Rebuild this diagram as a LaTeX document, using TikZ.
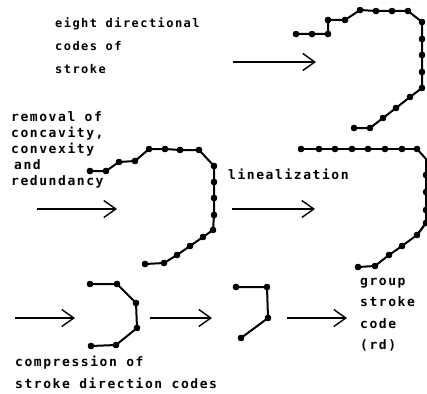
\documentclass[tikz,border=0pt]{standalone}
\usepackage{fontspec}
\newfontfamily\dotfont{DejaVu Sans Mono}[LetterSpace=12]
\usetikzlibrary{arrows.meta}

\begin{document}
\begin{tikzpicture}[x=1pt, y=-1pt,
  lbl/.style={anchor=north west, inner sep=0pt, align=left,
              font=\dotfont\bfseries\fontsize{13}{16}\selectfont},
  toplbl/.style={lbl, font=\dotfont\bfseries\fontsize{12}{23}\selectfont},
  sidelbl/.style={lbl, font=\dotfont\bfseries\fontsize{13}{21.5}\selectfont},
  arr/.style={-{Straight Barb[length=12pt, width=17pt, line width=1.4pt]}, line width=1.4pt},
  strk/.style={line width=2pt, line join=round, mark=*, mark size=2.3pt}
]
\useasboundingbox (0,0) rectangle (427,393);

% labels
\node[toplbl] (eight) at (55,18) {eight directional\\codes of\\stroke};
\node[lbl] (removal) at (11,111) {removal of\\concavity,\\convexity\\\hspace{3pt}and\\redundancy};
\node[lbl] (lineal) at (228,169) {linealization};
\node[sidelbl] (group) at (360,278) {group\\stroke\\code\\(rd)};
\node[sidelbl] (compr) at (15,356) {compression of\\stroke direction codes};

% arrows
\coordinate (a1s) at (233,62);  \coordinate (a1e) at (316,62);
\coordinate (a2s) at (37,209);  \coordinate (a2e) at (117,209);
\coordinate (a3s) at (232,209); \coordinate (a3e) at (315,209);
\coordinate (a4s) at (15,318);  \coordinate (a4e) at (75,318);
\coordinate (a5s) at (150,318); \coordinate (a5e) at (212,318);
\coordinate (a6s) at (287,318); \coordinate (a6e) at (347,318);
\draw[arr] (a1s) -- (a1e);
\draw[arr] (a2s) -- (a2e);
\draw[arr] (a3s) -- (a3e);
\draw[arr] (a4s) -- (a4e);
\draw[arr] (a5s) -- (a5e);
\draw[arr] (a6s) -- (a6e);

% strokes
\draw[strk] plot coordinates {(296,34) (312,34) (328,34) (328,20) (345,20) (360,10)
  (376,11) (392,11) (408,11) (422,22) (422,39) (422,55) (422,72) (422,88)
  (410,97) (396,108) (383,118) (370,128) (354,128)};
\draw[strk] plot coordinates {(90,171) (106,171) (119,162) (135,161) (149,149)
  (165,149) (180,150) (199,150) (214,166) (214,182) (214,198) (214,215)
  (213,230) (203,237) (190,246) (177,255) (164,263) (145,264)};
\draw[strk] plot coordinates {(301,149) (319,149) (335,149) (352,149) (368,149)
  (385,149) (402,149) (417,149)};
\draw[line width=2pt, line join=round] (417,149) -- (426,159) -- (426,223) -- (417,235);
\draw[strk] plot coordinates {(426,175) (426,192) (426,210) (426,223) (417,235)
  (402,246) (389,255) (375,266) (358,267)};
\draw[strk] plot coordinates {(90,284) (117,284) (136,303) (137,328) (116,345) (91,346)};
\draw[strk] plot coordinates {(236,287) (267,287) (268,318) (241,338)};
\end{tikzpicture}
\end{document}
